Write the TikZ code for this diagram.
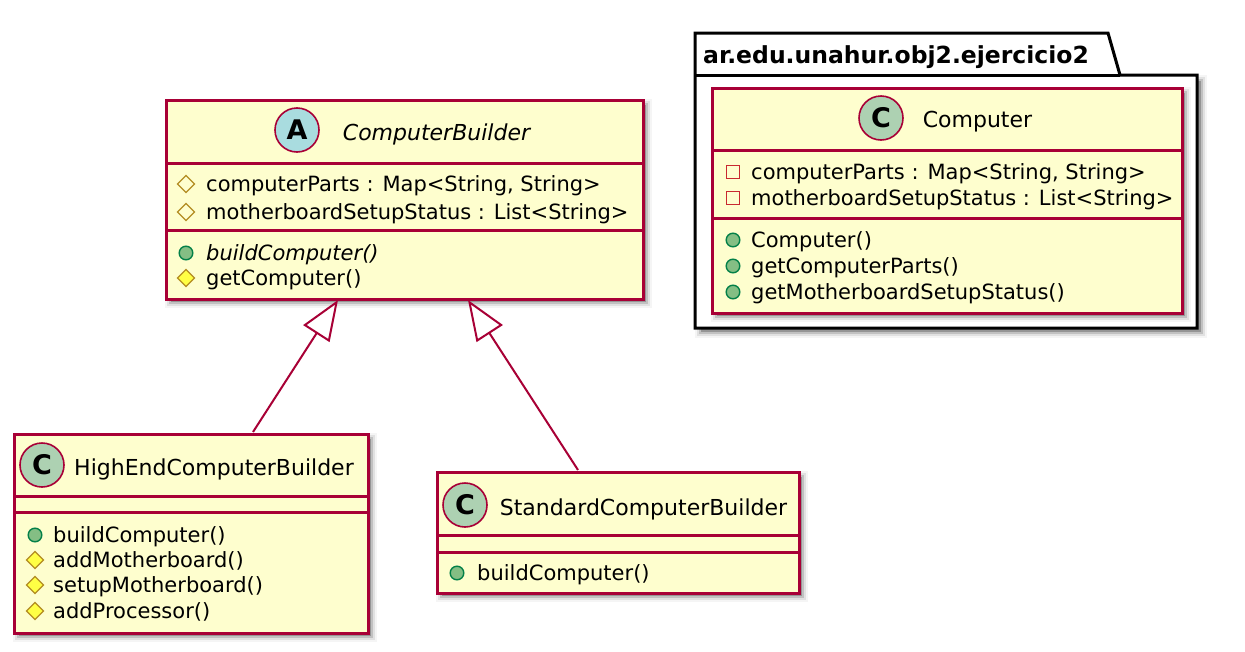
\documentclass[tikz,border=0pt]{standalone}
\usepackage{fontspec}
\setmainfont{DejaVu Sans}
\usetikzlibrary{arrows.meta}
\definecolor{umlred}{HTML}{A80036}
\definecolor{umlfill}{HTML}{FEFECE}
\definecolor{iconA}{HTML}{A9DCDF}
\definecolor{iconC}{HTML}{ADD1B2}
\definecolor{protline}{HTML}{B38D22}
\definecolor{protfill}{HTML}{FFFF44}
\definecolor{publine}{HTML}{038048}
\definecolor{pubfill}{HTML}{84BE84}
\definecolor{privline}{HTML}{C82930}
\newcommand\umlshadow[4]{%
  \foreach \e/\op in {-1/0.22, 1/0.14, 3/0.08, 5/0.04}{%
    \fill[black,opacity=\op] (#1+5-\e,#2+5-\e) rectangle (#3+5+\e,#4+5+\e);}}
\newcommand\pubmark[2]{\draw[line width=1.4pt,draw=publine,fill=pubfill] (#1,#2) circle (6.8pt);}
\newcommand\protfield[2]{\draw[line width=1.4pt,draw=protline,fill=none] (#1-8.5,#2) -- (#1,#2-8.5) -- (#1+8.5,#2) -- (#1,#2+8.5) -- cycle;}
\newcommand\protmeth[2]{\draw[line width=1.4pt,draw=protline,fill=protfill] (#1-8.5,#2) -- (#1,#2-8.5) -- (#1+8.5,#2) -- (#1,#2+8.5) -- cycle;}
\newcommand\privfield[2]{\draw[line width=1.4pt,draw=privline,fill=none] (#1-6.5,#2-6.5) rectangle (#1+6.5,#2+6.5);}
\begin{document}
\begin{tikzpicture}[x=1pt,y=-1pt,
  classbox/.style={draw=umlred,fill=umlfill,line width=3pt,inner sep=0pt,anchor=north west},
  sepline/.style={draw=umlred,line width=3pt},
  icon/.style={circle,draw=umlred,line width=1.6pt,minimum size=44pt,inner sep=0pt},
  iconletter/.style={font=\bfseries\fontsize{27}{29}\selectfont,inner sep=0pt},
  ctitle/.style={font=\fontsize{22}{26}\selectfont,inner sep=0pt,anchor=base},
  mem/.style={font=\fontsize{21}{25}\selectfont,inner sep=0pt,anchor=base west},
  pkgtitle/.style={font=\bfseries\fontsize{23.5}{27}\selectfont,inner sep=0pt,anchor=base west},
  inh/.style={draw=umlred,line width=2pt,-{Triangle[length=40pt,width=31pt,fill=white,line width=2pt]}}]
\useasboundingbox (0,0) rectangle (1245,651);
\fill[white] (0,0) rectangle (1245,651);

% ---------- package ----------
\umlshadow{695}{75}{1197}{328}
\draw[black,line width=3pt,fill=white,line join=miter] (695,33) -- (1108,33) -- (1120,75) -- (1197,75) -- (1197,328) -- (695,328) -- cycle;
\draw[black,line width=3pt] (695,75) -- (1120,75);
\node[pkgtitle] (pkgT) at (703,63) {ar.edu.unahur.obj2.ejercicio2};

% ---------- Computer ----------
\umlshadow{711}{87}{1181}{312}
\node[classbox,minimum width=470pt,minimum height=225pt] (comp) at (711,87) {};
\draw[sepline] (711,150) -- (1181,150);
\draw[sepline] (711,218) -- (1181,218);
\node[icon,fill=iconC] (compI) at (881,118) {};
\node[iconletter] (compIL) at (compI) {C};
\node[ctitle] (compT) at (977.5,127) {Computer};
\privfield{733}{172}
\node[mem] (compA1) at (751,179) {computerParts : Map<String, String>};
\privfield{733}{198}
\node[mem] (compA2) at (751,205) {motherboardSetupStatus : List<String>};
\pubmark{733}{240}
\node[mem] (compM1) at (751,247) {Computer()};
\pubmark{733}{266}
\node[mem] (compM2) at (751,273) {getComputerParts()};
\pubmark{733}{292}
\node[mem] (compM3) at (751,299) {getMotherboardSetupStatus()};

% ---------- ComputerBuilder ----------
\umlshadow{165}{99}{642}{298}
\node[classbox,minimum width=477pt,minimum height=199pt] (cb) at (165,99) {};
\draw[sepline] (165,163) -- (642,163);
\draw[sepline] (165,230) -- (642,230);
\node[icon,fill=iconA] (cbI) at (297,130) {};
\node[iconletter] (cbIL) at (cbI) {A};
\node[ctitle,font=\itshape\fontsize{22}{26}\selectfont] (cbT) at (436.5,140) {ComputerBuilder};
\protfield{186}{184}
\node[mem] (cbA1) at (206,191) {computerParts : Map<String, String>};
\protfield{186}{212}
\node[mem] (cbA2) at (206,219) {motherboardSetupStatus : List<String>};
\pubmark{186}{253}
\node[mem,font=\itshape\fontsize{21}{25}\selectfont] (cbM1) at (206,260) {buildComputer()};
\protmeth{186}{278}
\node[mem] (cbM2) at (206,285) {getComputer()};

% ---------- HighEndComputerBuilder ----------
\umlshadow{13}{433}{367}{632}
\node[classbox,minimum width=354pt,minimum height=199pt] (he) at (13,433) {};
\draw[sepline] (13,496) -- (367,496);
\draw[sepline] (13,512) -- (367,512);
\node[icon,fill=iconC] (heI) at (42,465) {};
\node[iconletter] (heIL) at (heI) {C};
\node[ctitle] (heT) at (214,475) {HighEndComputerBuilder};
\pubmark{35}{535}
\node[mem] (heM1) at (53,542) {buildComputer()};
\protmeth{35}{560}
\node[mem] (heM2) at (53,567) {addMotherboard()};
\protmeth{35}{585}
\node[mem] (heM3) at (53,592) {setupMotherboard()};
\protmeth{35}{611}
\node[mem] (heM4) at (53,618) {addProcessor()};

% ---------- StandardComputerBuilder ----------
\umlshadow{436}{471}{798}{592}
\node[classbox,minimum width=362pt,minimum height=121pt] (st) at (436,471) {};
\draw[sepline] (436,535) -- (798,535);
\draw[sepline] (436,552) -- (798,552);
\node[icon,fill=iconC] (stI) at (465,505) {};
\node[iconletter] (stIL) at (stI) {C};
\node[ctitle] (stT) at (643.5,515) {StandardComputerBuilder};
\pubmark{457}{573}
\node[mem] (stM1) at (477,580) {buildComputer()};

% ---------- inheritance ----------
\coordinate (heTop) at (253,432);
\coordinate (cbL) at (338,300);
\coordinate (stTop) at (578,470);
\coordinate (cbR) at (468,300);
\draw[inh] (heTop) -- (cbL);
\draw[inh] (stTop) -- (cbR);
\end{tikzpicture}
\end{document}
